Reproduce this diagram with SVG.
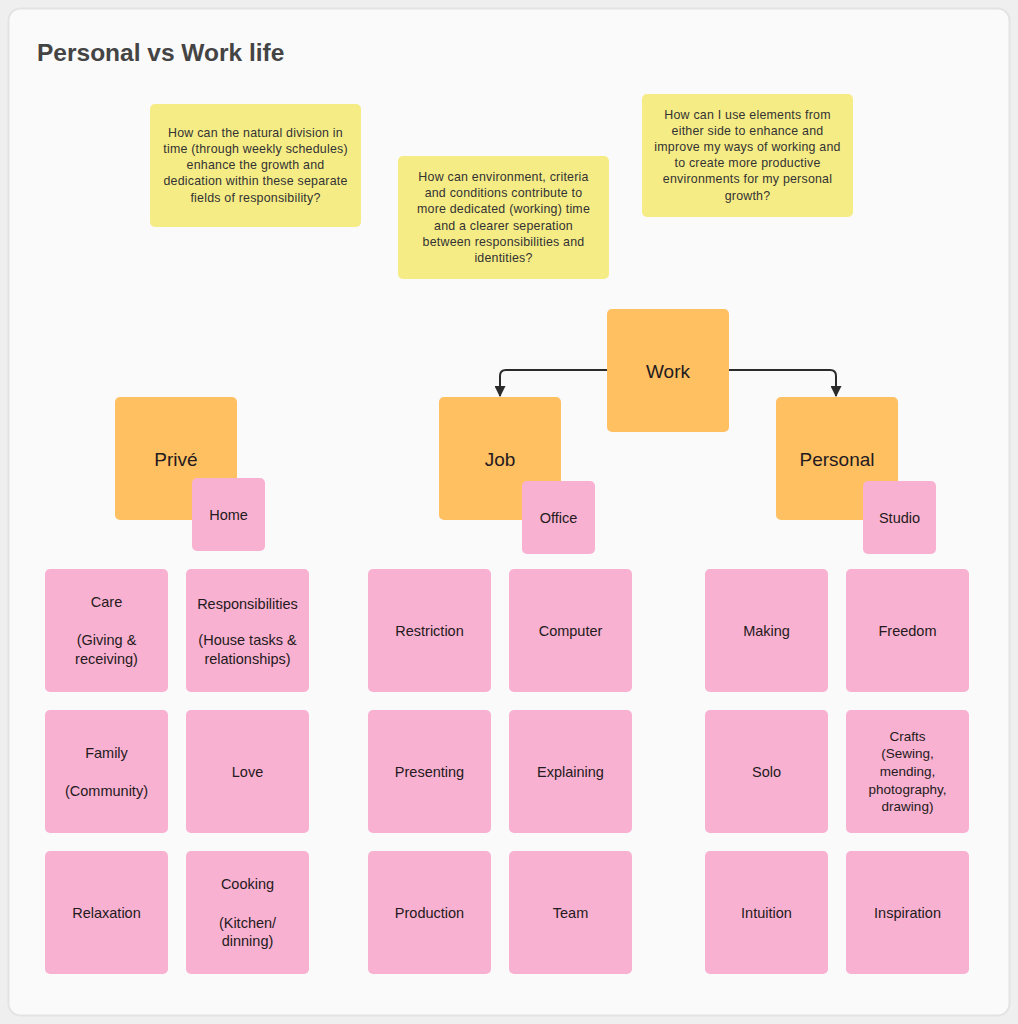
<svg xmlns="http://www.w3.org/2000/svg" width="1018" height="1024" viewBox="0 0 1018 1024">
<defs>
<style>
.note{fill:#f6ec86}
.main{fill:#ffc061}
.pink{fill:#f9b1d1}
text{font-family:"Liberation Sans",Arial,sans-serif;text-anchor:middle;fill:#241a20}
.q{font-size:12.4px;letter-spacing:0.22px;fill:#333}
.big{font-size:19px}
.t{font-size:14.5px}
.sm{font-size:13.5px}
.title{font-size:24.5px;font-weight:bold;text-anchor:start;fill:#444}
.conn{fill:none;stroke:#2b2b2b;stroke-width:2}
</style>
<marker id="arr" viewBox="0 0 10 10" refX="9" refY="5" markerWidth="5.5" markerHeight="5.5" orient="auto" markerUnits="strokeWidth">
<path d="M0,0 L10,5 L0,10 z" fill="#2b2b2b"/>
</marker>
</defs>
<rect x="0" y="0" width="1018" height="1024" fill="#efefef"/>
<rect x="8.5" y="8.5" width="1001" height="1007" rx="12" fill="#fafafa" stroke="#e3e3e3" stroke-width="2"/>
<text class="title" x="37" y="61">Personal vs Work life</text>

<g id="q1">
<rect class="note" x="150" y="104" width="211" height="123" rx="5"/>
<text class="q" x="255.5"><tspan x="255.5" y="136.5">How can the natural division in</tspan><tspan x="255.5" y="152.8">time (through weekly schedules)</tspan><tspan x="255.5" y="169.1">enhance the growth and</tspan><tspan x="255.5" y="185.4">dedication within these separate</tspan><tspan x="255.5" y="201.7">fields of responsibility?</tspan></text>
</g>
<g id="q2">
<rect class="note" x="398" y="156" width="211" height="123" rx="5"/>
<text class="q"><tspan x="503.5" y="181">How can environment, criteria</tspan><tspan x="503.5" y="197.2">and conditions contribute to</tspan><tspan x="503.5" y="213.4">more dedicated (working) time</tspan><tspan x="503.5" y="229.6">and a clearer seperation</tspan><tspan x="503.5" y="245.8">between responsibilities and</tspan><tspan x="503.5" y="262">identities?</tspan></text>
</g>
<g id="q3">
<rect class="note" x="642" y="94" width="211" height="123" rx="5"/>
<text class="q"><tspan x="747.5" y="118.6">How can I use elements from</tspan><tspan x="747.5" y="134.8">either side to enhance and</tspan><tspan x="747.5" y="151">improve my ways of working and</tspan><tspan x="747.5" y="167.2">to create more productive</tspan><tspan x="747.5" y="183.4">environments for my personal</tspan><tspan x="747.5" y="199.6">growth?</tspan></text>
</g>

<g id="connectors">
<path class="conn" d="M607,370 H506 Q500,370 500,376 V396" marker-end="url(#arr)"/>
<path class="conn" d="M729,370 H830 Q836,370 836,376 V396" marker-end="url(#arr)"/>
</g>

<g id="work"><rect class="main" x="607" y="309" width="122" height="123" rx="5"/><text class="big" x="668" y="377.5">Work</text></g>
<g id="prive"><rect class="main" x="115" y="397" width="122" height="123" rx="5"/><text class="big" x="176" y="465.7">Privé</text></g>
<g id="job"><rect class="main" x="439" y="397" width="122" height="123" rx="5"/><text class="big" x="500" y="465.7">Job</text></g>
<g id="personal"><rect class="main" x="776" y="397" width="122" height="123" rx="5"/><text class="big" x="837" y="465.7">Personal</text></g>

<g id="home"><rect class="pink" x="192" y="478" width="73" height="73" rx="5"/><text class="t" x="228.5" y="519.5">Home</text></g>
<g id="office"><rect class="pink" x="522" y="481" width="73" height="73" rx="5"/><text class="t" x="558.5" y="522.5">Office</text></g>
<g id="studio"><rect class="pink" x="863" y="481" width="73" height="73" rx="5"/><text class="t" x="899.5" y="522.5">Studio</text></g>

<g id="care"><rect class="pink" x="45" y="569" width="123" height="123" rx="5"/><text class="t"><tspan x="106.5" y="607">Care</tspan><tspan x="106.5" y="645">(Giving &amp;</tspan><tspan x="106.5" y="664">receiving)</tspan></text></g>
<g id="responsibilities"><rect class="pink" x="186" y="569" width="123" height="123" rx="5"/><text class="t"><tspan x="247.5" y="608.5">Responsibilities</tspan><tspan x="247.5" y="645">(House tasks &amp;</tspan><tspan x="247.5" y="663.5">relationships)</tspan></text></g>
<g id="family"><rect class="pink" x="45" y="710" width="123" height="123" rx="5"/><text class="t"><tspan x="106.5" y="758">Family</tspan><tspan x="106.5" y="796">(Community)</tspan></text></g>
<g id="love"><rect class="pink" x="186" y="710" width="123" height="123" rx="5"/><text class="t" x="247.5" y="776.5">Love</text></g>
<g id="relaxation"><rect class="pink" x="45" y="851" width="123" height="123" rx="5"/><text class="t" x="106.5" y="917.5">Relaxation</text></g>
<g id="cooking"><rect class="pink" x="186" y="851" width="123" height="123" rx="5"/><text class="t"><tspan x="247.5" y="888.5">Cooking</tspan><tspan x="247.5" y="927.5">(Kitchen/</tspan><tspan x="247.5" y="946">dinning)</tspan></text></g>

<g id="restriction"><rect class="pink" x="368" y="569" width="123" height="123" rx="5"/><text class="t" x="429.5" y="635.5">Restriction</text></g>
<g id="computer"><rect class="pink" x="509" y="569" width="123" height="123" rx="5"/><text class="t" x="570.5" y="635.5">Computer</text></g>
<g id="presenting"><rect class="pink" x="368" y="710" width="123" height="123" rx="5"/><text class="t" x="429.5" y="776.5">Presenting</text></g>
<g id="explaining"><rect class="pink" x="509" y="710" width="123" height="123" rx="5"/><text class="t" x="570.5" y="776.5">Explaining</text></g>
<g id="production"><rect class="pink" x="368" y="851" width="123" height="123" rx="5"/><text class="t" x="429.5" y="917.5">Production</text></g>
<g id="team"><rect class="pink" x="509" y="851" width="123" height="123" rx="5"/><text class="t" x="570.5" y="917.5">Team</text></g>

<g id="making"><rect class="pink" x="705" y="569" width="123" height="123" rx="5"/><text class="t" x="766.5" y="635.5">Making</text></g>
<g id="freedom"><rect class="pink" x="846" y="569" width="123" height="123" rx="5"/><text class="t" x="907.5" y="635.5">Freedom</text></g>
<g id="solo"><rect class="pink" x="705" y="710" width="123" height="123" rx="5"/><text class="t" x="766.5" y="776.5">Solo</text></g>
<g id="crafts"><rect class="pink" x="846" y="710" width="123" height="123" rx="5"/><text class="sm"><tspan x="907.5" y="740.7">Crafts</tspan><tspan x="907.5" y="758.3">(Sewing,</tspan><tspan x="907.5" y="775.9">mending,</tspan><tspan x="907.5" y="793.5">photography,</tspan><tspan x="907.5" y="811.1">drawing)</tspan></text></g>
<g id="intuition"><rect class="pink" x="705" y="851" width="123" height="123" rx="5"/><text class="t" x="766.5" y="917.5">Intuition</text></g>
<g id="inspiration"><rect class="pink" x="846" y="851" width="123" height="123" rx="5"/><text class="t" x="907.5" y="917.5">Inspiration</text></g>
</svg>
